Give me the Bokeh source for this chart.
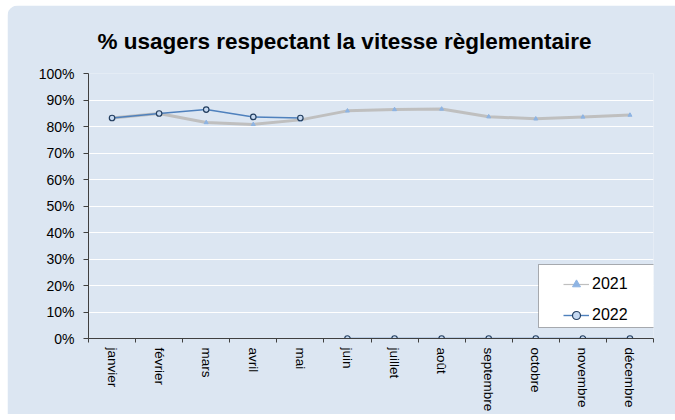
from bokeh.plotting import figure
from bokeh.models import (Range1d, FixedTicker, PrintfTickFormatter, Legend, LegendItem,
                          BoxAnnotation, Title)
from bokeh.embed import file_html
from bokeh.resources import INLINE

months = ["janvier", "février", "mars", "avril", "mai", "juin", "juillet", "août",
          "septembre", "octobre", "novembre", "décembre"]
v2021 = [83.2, 84.9, 81.5, 80.8, 82.5, 85.9, 86.4, 86.6, 83.7, 82.9, 83.6, 84.3]
v2022 = [83.2, 84.9, 86.4, 83.6, 83.2, 0, 0, 0, 0, 0, 0, 0]
y_ticks = [0, 10, 20, 30, 40, 50, 60, 70, 80, 90, 100]
title_text = "% usagers respectant la vitesse règlementaire"

BG = "#DCE6F2"
FONT = "Liberation Sans"
AX = "#404040"

x = [i + 0.5 for i in range(len(months))]

p = figure(width=668, height=409, output_backend="svg", toolbar_location=None,
           x_range=Range1d(0, len(months)), y_range=Range1d(0, 100),
           min_border_left=81, min_border_right=22, min_border_top=68, min_border_bottom=76)
p.margin = (5, 0, 0, 7)
p.styles = {"border-radius": "12px 0 0 0", "overflow": "hidden"}
p.background_fill_color = BG
p.border_fill_color = BG
p.outline_line_color = None

p.title = Title(text=title_text, align="left",
                text_font=FONT, text_font_size="22.5px", text_font_style="bold",
                text_color="#000000", standoff=40, offset=9)

# grid
p.xgrid.grid_line_color = None
p.ygrid.grid_line_color = "white"
p.ygrid.grid_line_width = 1
p.ygrid.ticker = FixedTicker(ticks=y_ticks)

# y axis
p.yaxis.ticker = FixedTicker(ticks=y_ticks)
p.yaxis.formatter = PrintfTickFormatter(format="%d%%")
p.yaxis.major_tick_in = 0
p.yaxis.major_tick_out = 5
p.yaxis.minor_tick_line_color = None
p.yaxis.major_label_standoff = 9
p.yaxis.major_label_text_font = FONT
p.yaxis.major_label_text_font_size = "14px"
p.yaxis.major_label_text_color = "#000000"
p.yaxis.axis_line_color = AX
p.yaxis.major_tick_line_color = AX

# x axis
p.xaxis.ticker = FixedTicker(ticks=x, minor_ticks=list(range(len(months) + 1)))
p.xaxis.major_label_overrides = {xi: m for xi, m in zip(x, months)}
p.xaxis.major_tick_in = 0
p.xaxis.major_tick_out = 0
p.xaxis.minor_tick_in = 0
p.xaxis.minor_tick_out = 4
p.xaxis.minor_tick_line_color = AX
p.xaxis.axis_line_color = AX
p.xaxis.major_label_orientation = "vertical"
p.xaxis.major_label_standoff = 5
p.xaxis.major_label_text_font = FONT
p.xaxis.major_label_text_font_size = "13.5px"
p.xaxis.major_label_text_color = "#000000"

# series
p.line(x, v2021, line_color="#BFBFBF", line_width=3)
m21 = p.scatter(x, v2021, marker="triangle", size=4, fill_color="#8EB4E3",
                line_color="#8EB4E3")
l22a = p.line(x[:5], v2022[:5], line_color="#4F81BD", line_width=1.4)
l22b = p.line(x[5:], v2022[5:], line_color="#4F81BD", line_width=1.4)
m22 = p.scatter(x, v2022, marker="circle", size=5.5, fill_color="#C6D9F1",
                line_color="#243F60", line_width=1.2)

# thin line used only for the legend swatch of 2021 (draws nothing in the plot)
nan = float("nan")
l21_leg = p.line(x=[nan, nan], y=[nan, nan], line_color="#BFBFBF", line_width=1.2)

box = BoxAnnotation(left=450, right=567, top=74, bottom=11,
                    left_units="screen", right_units="screen",
                    top_units="screen", bottom_units="screen",
                    fill_color="white", fill_alpha=1, line_color="black", line_width=1)
p.add_layout(box)

legend = Legend(items=[LegendItem(label="2021", renderers=[l21_leg, m21]),
                       LegendItem(label="2022", renderers=[l22a, m22])],
                location=(475, 13), padding=0, margin=0, spacing=11,
                glyph_width=26, label_standoff=3,
                border_line_color=None, background_fill_alpha=0,
                label_text_font=FONT, label_text_font_size="16px",
                label_text_color="#000000")
p.add_layout(legend)

html = file_html(p, INLINE)
open("out.html", "w").write(html)
